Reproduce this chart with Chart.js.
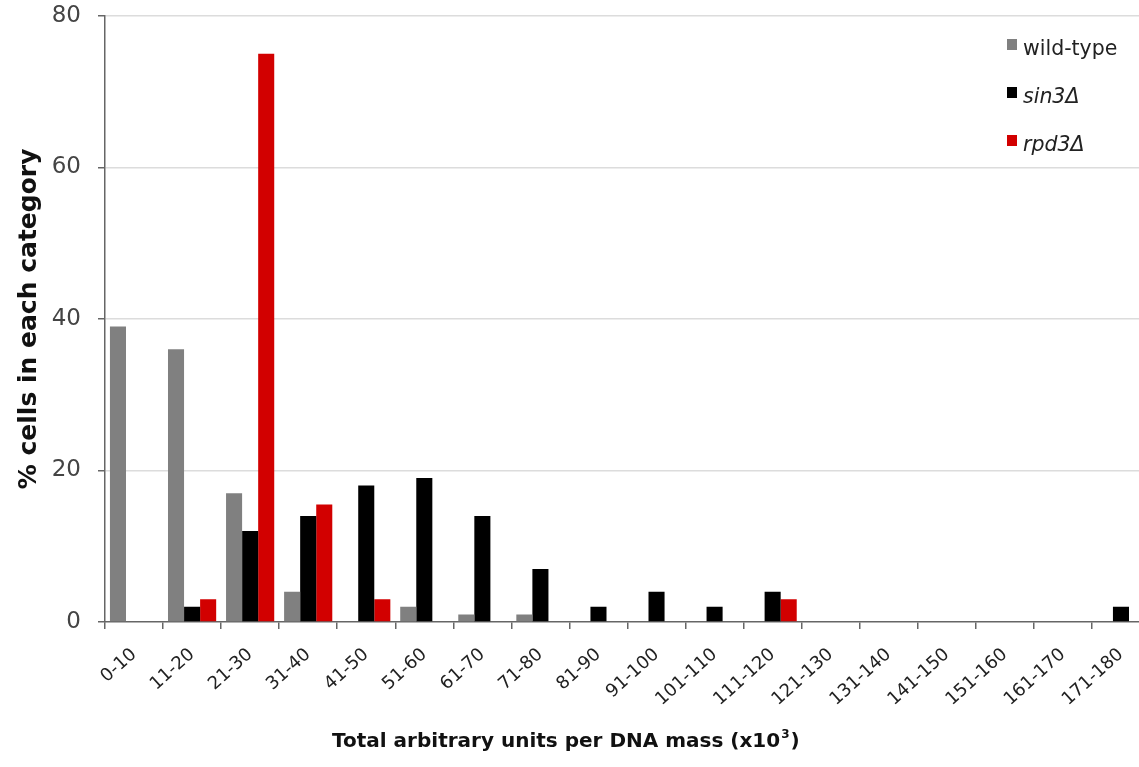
<!doctype html>
<html>
<head>
    <title>Cells per category</title>
    <script src="https://cdn.jsdelivr.net/npm/chart.js@4"></script>
    <style>
        body {
            margin: 0;
            overflow: hidden;
            background: #fff;
        }
        .canvas-con {
            position: relative;
            width: 1160px;
            height: 767px;
        }
        /* chart.js keeps extra room above the plot for the top tick label; nudge it up */
        #chart-area {
            position: absolute;
            left: 0;
            top: -15px;
        }
        .legend-con {
            position: absolute;
            left: 1007px;
            top: 24px;
            font-family: "DejaVu Sans", sans-serif;
            font-size: 20.5px;
            color: #222;
        }
        .legend-con div {
            display: flex;
            align-items: center;
            height: 48px;
        }
        .legend-con span.box {
            display: inline-block;
            width: 10px;
            height: 11px;
            margin-right: 6px;
            margin-top: -8px;
        }
    </style>
</head>
<body>

<div class="canvas-con">
    <canvas id="chart-area" width="1160" height="782"></canvas>
    <div id="legend-con" class="legend-con"></div>
</div>

<script>
    var categories = ['0-10', '11-20', '21-30', '31-40', '41-50', '51-60', '61-70', '71-80', '81-90',
        '91-100', '101-110', '111-120', '121-130', '131-140', '141-150', '151-160', '161-170', '171-180'];

    var wildType = [39, 36, 17, 4, 0, 2, 1, 1, 0, 0, 0, 0, 0, 0, 0, 0, 0, 0];
    var sin3 = [0, 2, 12, 14, 18, 19, 14, 7, 2, 4, 2, 4, 0, 0, 0, 0, 0, 2];
    var rpd3 = [0, 3, 75, 15.5, 3, 0, 0, 0, 0, 0, 0, 3, 0, 0, 0, 0, 0, 0];

    var seriesNames = ['wild-type', 'sin3\u0394', 'rpd3\u0394'];
    var seriesColors = ['#808080', '#000000', '#d20000'];
    var seriesItalic = [false, true, true];

    var yTicks = [0, 20, 40, 60, 80];

    var FONT = '"DejaVu Sans", sans-serif';

    // x axis title sits left of the plot centre in the original, so draw it by hand
    var xTitlePlugin = {
        id: 'xTitle',
        afterDraw: function(chart) {
            var ctx = chart.ctx;
            ctx.save();
            ctx.font = 'bold 20px ' + FONT;
            ctx.fillStyle = '#111';
            ctx.textBaseline = 'middle';
            ctx.textAlign = 'left';
            var base = 'Total arbitrary units per DNA mass (x10';
            var x = 332, y = 757;
            ctx.fillText(base, x, y);
            var w = ctx.measureText(base).width;
            ctx.font = 'bold 12px ' + FONT;
            ctx.fillText('3', x + w + 1, y - 7);
            var w2 = ctx.measureText('3').width;
            ctx.font = 'bold 20px ' + FONT;
            ctx.fillText(')', x + w + w2 + 2, y);
            ctx.restore();
        }
    };

    var datasets = [wildType, sin3, rpd3].map(function(values, i) {
        return {
            label: seriesNames[i],
            data: values,
            backgroundColor: seriesColors[i],
            borderWidth: 0,
            categoryPercentage: 0.83,
            barPercentage: 1.0
        };
    });

    var config = {
        type: 'bar',
        data: {
            labels: categories,
            datasets: datasets
        },
        options: {
            responsive: false,
            animation: false,
            layout: {
                padding: { top: 11, right: 10, left: 0, bottom: 0 }
            },
            plugins: {
                legend: { display: false },
                tooltip: { enabled: false }
            },
            scales: {
                x: {
                    offset: true,
                    grid: {
                        offset: true,
                        drawOnChartArea: false,
                        drawTicks: true,
                        tickLength: 7,
                        tickColor: '#666',
                        lineWidth: 1.5
                    },
                    border: { color: '#666', width: 1.5 },
                    ticks: {
                        minRotation: 42,
                        maxRotation: 42,
                        autoSkip: false,
                        color: '#222',
                        padding: 15,
                        font: { family: FONT, size: 18 }
                    },
                    afterFit: function(scale) {
                        scale.height = 145;
                    }
                },
                y: {
                    min: 0,
                    max: 80,
                    afterBuildTicks: function(scale) {
                        scale.ticks = yTicks.map(function(v) { return { value: v }; });
                    },
                    grid: {
                        color: function(c) {
                            return c.tick && c.tick.value === 0 ? 'rgba(0,0,0,0)' : '#dcdcdc';
                        },
                        lineWidth: 1.5,
                        tickLength: 7,
                        tickColor: '#666'
                    },
                    border: { color: '#666', width: 1.5 },
                    ticks: {
                        color: '#444',
                        padding: 17,
                        font: { family: FONT, size: 23 }
                    },
                    title: {
                        display: true,
                        text: '% cells in each category',
                        color: '#111',
                        padding: { top: 14, bottom: 0 },
                        font: { family: FONT, size: 25, weight: 'bold' }
                    },
                    afterFit: function(scale) {
                        scale.width = 105;
                    }
                }
            }
        },
        plugins: [xTitlePlugin]
    };

    window.onload = function() {
        var ctx = document.getElementById('chart-area').getContext('2d');
        window.myBar = new Chart(ctx, config);

        var legendHtml = [];
        for (var i = 0; i < seriesNames.length; i++) {
            legendHtml.push('<div>');
            legendHtml.push('<span class="box" style="background-color:' + seriesColors[i] + '"></span>');
            legendHtml.push('<span style="font-style:' + (seriesItalic[i] ? 'italic' : 'normal') + '">' + seriesNames[i] + '</span>');
            legendHtml.push('</div>');
        }
        document.getElementById('legend-con').innerHTML = legendHtml.join('');
    };
</script>
</body>
</html>
